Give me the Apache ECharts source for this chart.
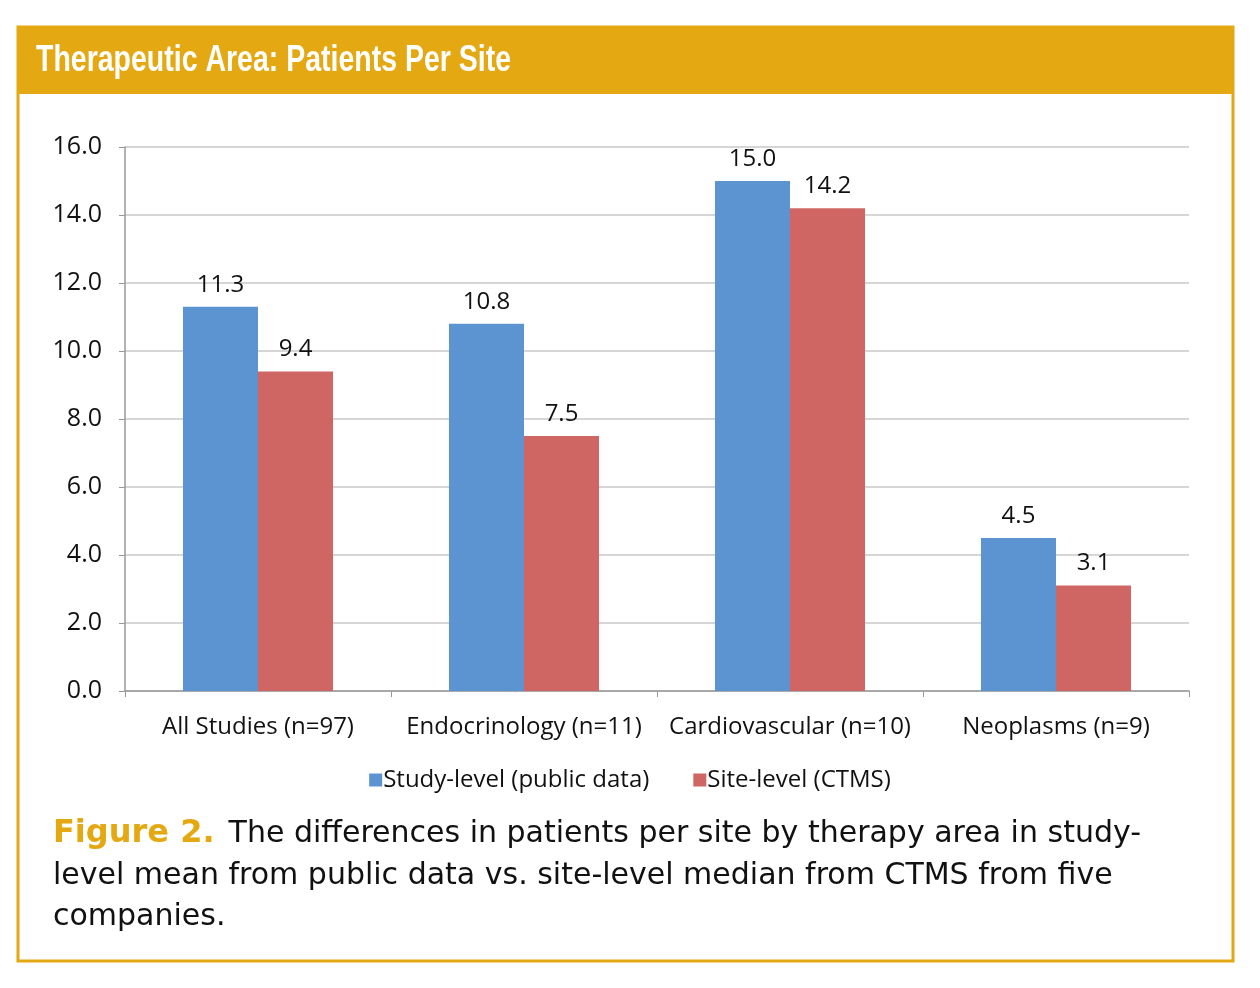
<!DOCTYPE html>
<html><head><meta charset="utf-8">
<script src="https://cdn.jsdelivr.net/npm/echarts@6/dist/echarts.min.js"></script>
<style>html,body{margin:0;padding:0;background:#fff}#c{width:1260px;height:988px}</style>
</head><body><div id="c"></div>
<script>
const categories = ['All Studies (n=97)', 'Endocrinology (n=11)', 'Cardiovascular (n=10)', 'Neoplasms (n=9)'];
const studyLevel = [11.3, 10.8, 15.0, 4.5];
const siteLevel = [9.4, 7.5, 14.2, 3.1];
const seriesNames = ['Study-level (public data)', 'Site-level (CTMS)'];
const yTicks = { min: 0, max: 16, interval: 2 };

const gold = '#E4A812';
const chart = echarts.init(document.getElementById('c'));
const labelFont = "'Open Sans', 'Noto Sans', sans-serif";
const capFont = "'DejaVu Sans', 'Verdana', sans-serif";
chart.setOption({
  animation: false,
  backgroundColor: '#fff',
  grid: { left: 125, right: 71, top: 147, bottom: 297 },
  legend: {
    data: seriesNames, left: 'center', top: 763, itemWidth: 13, itemHeight: 13, itemGap: 44,
    icon: 'rect',
    textStyle: { fontSize: 24, color: '#111', fontFamily: labelFont, padding: [0, 0, 0, -4] }
  },
  xAxis: {
    type: 'category', data: categories,
    axisLine: { lineStyle: { color: '#999', width: 1.5 } },
    axisTick: { show: true, length: 6, lineStyle: { color: '#999' } },
    axisLabel: { interval: 0, fontSize: 24, color: '#111', margin: 24, fontFamily: labelFont }
  },
  yAxis: {
    type: 'value', min: yTicks.min, max: yTicks.max, interval: yTicks.interval,
    axisLine: { show: true, lineStyle: { color: '#999', width: 1.5 } },
    axisTick: { show: true, length: 6, lineStyle: { color: '#999' } },
    splitLine: { lineStyle: { color: '#c8c8c8', width: 1.5 } },
    axisLabel: { fontSize: 25, color: '#111', margin: 23, fontFamily: labelFont, formatter: v => v.toFixed(1) }
  },
  series: [
    { name: seriesNames[0], type: 'bar', data: studyLevel, barGap: '0%', barCategoryGap: '43.6%',
      itemStyle: { color: '#5B94D0' },
      label: { show: true, position: 'top', distance: 10, fontSize: 24, color: '#111', fontFamily: labelFont, formatter: p => p.value.toFixed(1) } },
    { name: seriesNames[1], type: 'bar', data: siteLevel,
      itemStyle: { color: '#CF6663' },
      label: { show: true, position: 'top', distance: 10, fontSize: 24, color: '#111', fontFamily: labelFont, formatter: p => p.value.toFixed(1) } }
  ],
  graphic: [
    { type: 'rect', z: -1, shape: { x: 18, y: 27, width: 1215, height: 934 }, style: { fill: 'none', stroke: gold, lineWidth: 3 } },
    { type: 'rect', shape: { x: 17, y: 26, width: 1217, height: 68 }, style: { fill: gold } },
    { type: 'text', x: 36, y: 61, scaleX: 0.77, style: { text: 'Therapeutic Area: Patients Per Site', fill: '#fff', font: "bold 37px 'Liberation Sans', 'Arial', sans-serif", textVerticalAlign: 'middle' } },
    { type: 'text', x: 53, y: 834, style: {
        text: '{f|Figure 2.}{t|The differences in patients per site by therapy area in study-}',
        textVerticalAlign: 'middle',
        rich: { f: { font: "bold 32px " + capFont, fill: gold, padding: [0, 14, 0, 0] }, t: { font: "30px " + capFont, fill: '#111' } } } },
    { type: 'text', x: 53, y: 876, style: { text: 'level mean from public data vs. site-level median from CTMS from five', fill: '#111', font: "30px " + capFont, textVerticalAlign: 'middle' } },
    { type: 'text', x: 53, y: 917, style: { text: 'companies.', fill: '#111', font: "30px " + capFont, textVerticalAlign: 'middle' } }
  ]
});
</script></body></html>
